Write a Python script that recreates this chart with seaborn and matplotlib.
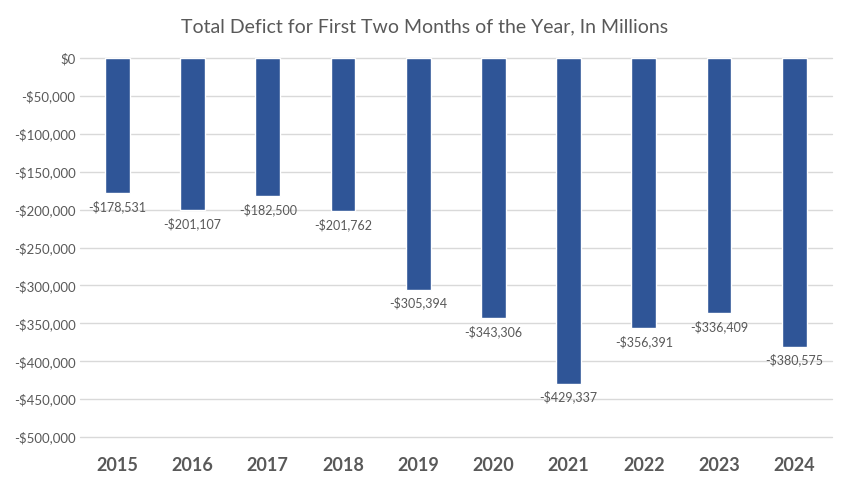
import matplotlib.pyplot as plt
import pandas as pd
import seaborn as sns
from matplotlib.ticker import FuncFormatter, MultipleLocator

YEARS = ["2015", "2016", "2017", "2018", "2019", "2020", "2021", "2022", "2023", "2024"]
DEFICIT = [-178531, -201107, -182500, -201762, -305394, -343306, -429337, -356391, -336409, -380575]

BAR_COLOR = "#2F5597"
TEXT_COLOR = "#595959"


def money(v, pos=None):
    v = int(round(v))
    return f"-${abs(v):,}" if v < 0 else f"${v:,}"


sns.set_theme(style="white")
plt.rcParams["font.family"] = ["Lato", "DejaVu Sans"]

df = pd.DataFrame({"year": YEARS, "deficit": DEFICIT})

fig = plt.figure(figsize=(8.48, 4.83), dpi=100)
ax = fig.add_axes([0.094, 0.095, 0.887, 0.785])

sns.barplot(data=df, x="year", y="deficit", color=BAR_COLOR, width=0.33,
            saturation=1, ax=ax, zorder=3)

ax.set_ylim(-500000, 0)
ax.yaxis.set_major_locator(MultipleLocator(50000))
ax.yaxis.set_major_formatter(FuncFormatter(money))
ax.grid(axis="y", color="#D9D9D9", linewidth=1, zorder=0)
for gl in ax.get_ygridlines():
    gl.set_clip_on(False)
ax.set_axisbelow(True)
sns.despine(ax=ax, left=True, bottom=True, top=True, right=True)

ax.bar_label(ax.containers[0], labels=[money(v) for v in DEFICIT], padding=5,
             fontsize=9, color=TEXT_COLOR)

ax.set_xlabel("")
ax.set_ylabel("")
ax.tick_params(axis="y", length=0, labelsize=9.5, labelcolor=TEXT_COLOR, pad=3)
ax.tick_params(axis="x", length=0, labelsize=13, labelcolor=TEXT_COLOR, pad=14)
for lab in ax.get_xticklabels():
    lab.set_fontweight("bold")

fig.suptitle("Total Defict for First Two Months of the Year, In Millions",
             x=0.501, y=0.962, fontsize=14, color=TEXT_COLOR)

fig.savefig("out.png", dpi=100, facecolor="white")
